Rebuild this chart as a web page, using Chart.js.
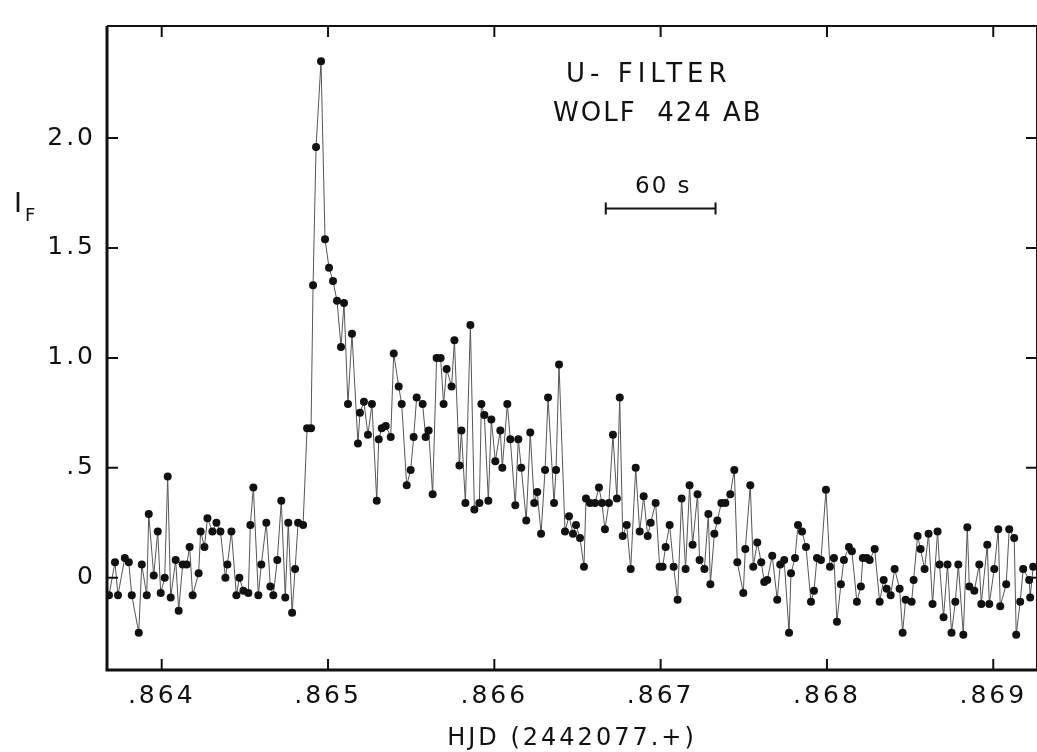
<!DOCTYPE html>
<html>
<head>
<meta charset="utf-8">
<title>Wolf 424 AB U-filter flare</title>
<script src="https://cdn.jsdelivr.net/npm/chart.js@4.4.1/dist/chart.umd.min.js"></script>
<style>
  body { margin: 0; background: #fff; overflow: hidden; }
  #wrap { position: relative; width: 1037px; height: 752px; overflow: hidden; }
  #flareChart { position: absolute; left: 0; top: 0; }
  .note { position: absolute; font-family: "DejaVu Sans", sans-serif; color: #111; white-space: nowrap; line-height: 1; }
</style>
</head>
<body>
<div id="wrap">
  <canvas id="flareChart" width="1041" height="752"></canvas>
  <div class="note" style="left:566px; top:60px; font-size:26px; letter-spacing:5px;">U- FILTER</div>
  <div class="note" style="left:553px; top:99px; font-size:26px; letter-spacing:2px;">WOLF&nbsp; 424 AB</div>
  <div class="note" style="left:635px; top:174px; font-size:23px; letter-spacing:2px;">60 s</div>
  <div class="note" style="left:14px; top:189px; font-size:27px;">I<span style="font-size:18px; position:relative; top:9px; left:3px;">F</span></div>
</div>
<script>
// Heliocentric Julian date (fraction of day 2442077) for each sample
const hjd = [
  0.863683, 0.863719, 0.863737, 0.863778, 0.863802, 0.863820, 0.863862, 0.863880, 0.863910, 0.863922,
  0.863952, 0.863976, 0.863994, 0.864018, 0.864036, 0.864054, 0.864084, 0.864102, 0.864126, 0.864150,
  0.864168, 0.864186, 0.864222, 0.864234, 0.864257, 0.864275, 0.864305, 0.864329, 0.864353, 0.864383,
  0.864395, 0.864419, 0.864449, 0.864467, 0.864491, 0.864521, 0.864533, 0.864551, 0.864581, 0.864599,
  0.864629, 0.864653, 0.864671, 0.864695, 0.864719, 0.864743, 0.864761, 0.864784, 0.864802, 0.864820,
  0.864850, 0.864874, 0.864898, 0.864910, 0.864928, 0.864958, 0.864982, 0.865006, 0.865030, 0.865054,
  0.865078, 0.865096, 0.865120, 0.865144, 0.865180, 0.865192, 0.865216, 0.865240, 0.865264, 0.865293,
  0.865305, 0.865323, 0.865347, 0.865377, 0.865395, 0.865425, 0.865443, 0.865473, 0.865497, 0.865515,
  0.865533, 0.865569, 0.865587, 0.865605, 0.865629, 0.865653, 0.865677, 0.865695, 0.865713, 0.865743,
  0.865760, 0.865790, 0.865802, 0.865826, 0.865856, 0.865880, 0.865910, 0.865922, 0.865940, 0.865964,
  0.865982, 0.866006, 0.866036, 0.866048, 0.866078, 0.866096, 0.866126, 0.866144, 0.866162, 0.866192,
  0.866216, 0.866240, 0.866258, 0.866281, 0.866305, 0.866323, 0.866359, 0.866371, 0.866389, 0.866425,
  0.866449, 0.866473, 0.866491, 0.866515, 0.866539, 0.866551, 0.866575, 0.866605, 0.866629, 0.866647,
  0.866665, 0.866689, 0.866713, 0.866737, 0.866754, 0.866772, 0.866796, 0.866820, 0.866850, 0.866874,
  0.866898, 0.866922, 0.866940, 0.866970, 0.866994, 0.867012, 0.867030, 0.867054, 0.867078, 0.867102,
  0.867126, 0.867150, 0.867174, 0.867192, 0.867222, 0.867234, 0.867263, 0.867287, 0.867299, 0.867323,
  0.867341, 0.867365, 0.867389, 0.867419, 0.867443, 0.867461, 0.867497, 0.867509, 0.867539, 0.867557,
  0.867581, 0.867605, 0.867623, 0.867641, 0.867671, 0.867701, 0.867719, 0.867743, 0.867772, 0.867784,
  0.867808, 0.867826, 0.867850, 0.867874, 0.867904, 0.867922, 0.867940, 0.867964, 0.867994, 0.868018,
  0.868042, 0.868060, 0.868084, 0.868102, 0.868132, 0.868150, 0.868180, 0.868204, 0.868216, 0.868240,
  0.868257, 0.868287, 0.868317, 0.868341, 0.868359, 0.868383, 0.868407, 0.868437, 0.868455, 0.868473,
  0.868509, 0.868521, 0.868545, 0.868563, 0.868587, 0.868611, 0.868635, 0.868665, 0.868677, 0.868701,
  0.868725, 0.868749, 0.868772, 0.868790, 0.868820, 0.868844, 0.868856, 0.868886, 0.868916, 0.868928,
  0.868964, 0.868976, 0.869006, 0.869030, 0.869042, 0.869078, 0.869096, 0.869126, 0.869138, 0.869162,
  0.869180, 0.869216, 0.869222, 0.869240
];

// Flare intensity I_F for each sample
const flux = [
  -0.08, 0.07, -0.08, 0.09, 0.07, -0.08, -0.25, 0.06, -0.08, 0.29,
  0.01, 0.21, -0.07, 0.00, 0.46, -0.09, 0.08, -0.15, 0.06, 0.06,
  0.14, -0.08, 0.02, 0.21, 0.14, 0.27, 0.21, 0.25, 0.21, 0.00,
  0.06, 0.21, -0.08, 0.00, -0.06, -0.07, 0.24, 0.41, -0.08, 0.06,
  0.25, -0.04, -0.08, 0.08, 0.35, -0.09, 0.25, -0.16, 0.04, 0.25,
  0.24, 0.68, 0.68, 1.33, 1.96, 2.35, 1.54, 1.41, 1.35, 1.26,
  1.05, 1.25, 0.79, 1.11, 0.61, 0.75, 0.80, 0.65, 0.79, 0.35,
  0.63, 0.68, 0.69, 0.64, 1.02, 0.87, 0.79, 0.42, 0.49, 0.64,
  0.82, 0.79, 0.64, 0.67, 0.38, 1.00, 1.00, 0.79, 0.95, 0.87,
  1.08, 0.51, 0.67, 0.34, 1.15, 0.31, 0.34, 0.79, 0.74, 0.35,
  0.72, 0.53, 0.67, 0.50, 0.79, 0.63, 0.33, 0.63, 0.50, 0.26,
  0.66, 0.34, 0.39, 0.20, 0.49, 0.82, 0.34, 0.49, 0.97, 0.21,
  0.28, 0.20, 0.24, 0.18, 0.05, 0.36, 0.34, 0.34, 0.41, 0.34,
  0.22, 0.34, 0.65, 0.36, 0.82, 0.19, 0.24, 0.04, 0.50, 0.21,
  0.37, 0.19, 0.25, 0.34, 0.05, 0.05, 0.14, 0.24, 0.05, -0.10,
  0.36, 0.04, 0.42, 0.15, 0.38, 0.08, 0.04, 0.29, -0.03, 0.20,
  0.26, 0.34, 0.34, 0.38, 0.49, 0.07, -0.07, 0.13, 0.42, 0.05,
  0.16, 0.07, -0.02, -0.01, 0.10, -0.10, 0.06, 0.08, -0.25, 0.02,
  0.09, 0.24, 0.21, 0.14, -0.11, -0.06, 0.09, 0.08, 0.40, 0.05,
  0.09, -0.20, -0.03, 0.08, 0.14, 0.12, -0.11, -0.04, 0.09, 0.09,
  0.08, 0.13, -0.11, -0.01, -0.05, -0.08, 0.04, -0.05, -0.25, -0.10,
  -0.11, -0.01, 0.19, 0.13, 0.04, 0.20, -0.12, 0.21, 0.06, -0.18,
  0.06, -0.25, -0.11, 0.06, -0.26, 0.23, -0.04, -0.06, 0.06, -0.12,
  0.15, -0.12, 0.04, 0.22, -0.13, -0.03, 0.22, 0.18, -0.26, -0.11,
  0.04, -0.01, -0.09, 0.05
];

// Axis ticks and their printed labels
const xTicks = [0.864, 0.865, 0.866, 0.867, 0.868, 0.869];
const xTickLabels = ['.864', '.865', '.866', '.867', '.868', '.869'];
const yTicks = [0, 0.5, 1.0, 1.5, 2.0];
const yTickLabels = ['0', '.5', '1.0', '1.5', '2.0'];

// 60 s scale bar (start / end in HJD, height in I_F)
const scaleBarX = [0.86667, 0.86733];
const scaleBarY = 1.68;

const labelFont = { family: 'DejaVu Sans', size: 25 };
const titleFont = { family: 'DejaVu Sans', size: 24 };

// Draws the box, the inward tick marks and the 60 s bar
const framePlugin = {
    id: 'frame',
    beforeDraw(chart) {
        chart.ctx.letterSpacing = '3px';
    },
    afterDraw(chart) {
        const { ctx, chartArea: a, scales: { x, y } } = chart;
        ctx.save();
        ctx.strokeStyle = '#111';
        ctx.lineCap = 'butt';

        ctx.lineWidth = 3;
        ctx.beginPath();
        ctx.moveTo(a.left, a.top);
        ctx.lineTo(a.left, a.bottom);
        ctx.lineTo(a.right, a.bottom);
        ctx.stroke();

        ctx.lineWidth = 2;
        ctx.beginPath();
        ctx.moveTo(a.left, a.top);
        ctx.lineTo(a.right, a.top);
        ctx.lineTo(a.right, a.bottom);
        ctx.stroke();

        ctx.lineWidth = 2;
        ctx.beginPath();
        yTicks.forEach(v => {
            const py = y.getPixelForValue(v);
            ctx.moveTo(a.left, py);
            ctx.lineTo(a.left + 11, py);
            ctx.moveTo(a.right, py);
            ctx.lineTo(a.right - 11, py);
        });
        xTicks.forEach(v => {
            const px = x.getPixelForValue(v);
            ctx.moveTo(px, a.bottom);
            ctx.lineTo(px, a.bottom - 11);
            ctx.moveTo(px, a.top);
            ctx.lineTo(px, a.top + 11);
        });
        ctx.stroke();

        const x0 = x.getPixelForValue(scaleBarX[0]);
        const x1 = x.getPixelForValue(scaleBarX[1]);
        const yb = y.getPixelForValue(scaleBarY);
        ctx.beginPath();
        ctx.moveTo(x0, yb);
        ctx.lineTo(x1, yb);
        ctx.moveTo(x0, yb - 6);
        ctx.lineTo(x0, yb + 6);
        ctx.moveTo(x1, yb - 6);
        ctx.lineTo(x1, yb + 6);
        ctx.stroke();
        ctx.restore();
    }
};

const ctx = document.getElementById('flareChart').getContext('2d');

new Chart(ctx, {
    type: 'line',
    data: {
        datasets: [{
            data: hjd.map((t, i) => ({ x: t, y: flux[i] })),
            borderColor: '#555',
            borderWidth: 1,
            pointRadius: 4,
            pointBackgroundColor: '#111',
            pointBorderColor: '#111',
            pointBorderWidth: 0,
            tension: 0,
            fill: false
        }]
    },
    options: {
        responsive: false,
        animation: false,
        devicePixelRatio: 1,
        layout: { padding: { top: 14, left: 0, right: 0, bottom: 0 } },
        plugins: {
            legend: { display: false },
            tooltip: { enabled: false }
        },
        scales: {
            x: {
                type: 'linear',
                min: 0.863671,
                max: 0.869263,
                grid: { display: false, drawTicks: false },
                border: { display: false },
                afterFit: s => { s.height = 82; },
                afterBuildTicks: s => { s.ticks = xTicks.map(v => ({ value: v })); },
                ticks: {
                    includeBounds: false,
                    autoSkip: false,
                    maxRotation: 0,
                    padding: 11,
                    color: '#111',
                    font: labelFont,
                    callback: (v, i) => xTickLabels[i]
                },
                title: {
                    display: true,
                    text: 'HJD (2442077.+)',
                    color: '#111',
                    font: titleFont,
                    align: 'center',
                    padding: { top: 0, bottom: -1 }
                }
            },
            y: {
                type: 'linear',
                min: -0.42,
                max: 2.51,
                grid: { display: false, drawTicks: false },
                border: { display: false },
                afterFit: s => { s.width = 107; },
                afterBuildTicks: s => { s.ticks = yTicks.map(v => ({ value: v })); },
                ticks: {
                    includeBounds: false,
                    autoSkip: false,
                    padding: 11,
                    color: '#111',
                    font: labelFont,
                    callback: (v, i) => yTickLabels[i]
                }
            }
        }
    },
    plugins: [framePlugin]
});
</script>
</body>
</html>
